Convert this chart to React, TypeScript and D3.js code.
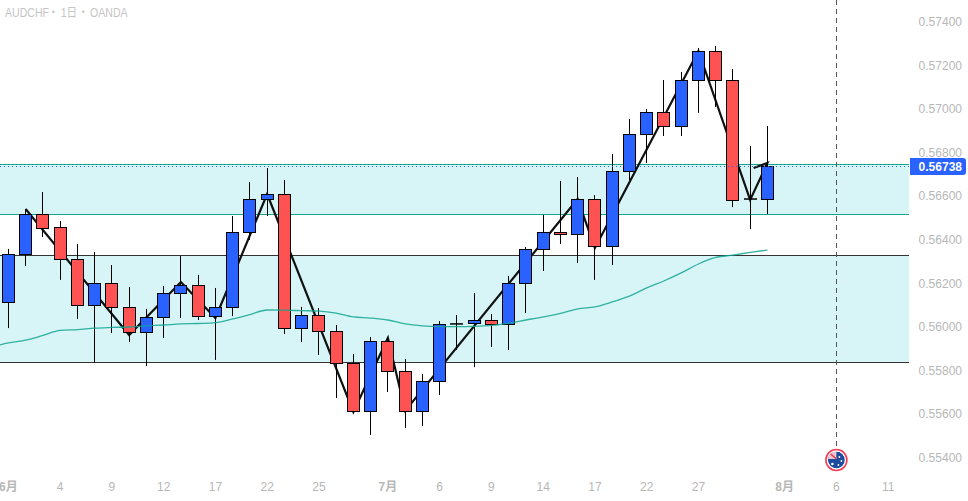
import React from "react";
import * as d3 from "d3";

const W = 968;
const H = 501;

const opens = [0.56116,0.56336,0.56519,0.5646,0.56313,0.56102,0.56203,0.56093,0.55978,0.56047,0.56157,0.56194,0.56051,0.56093,0.56437,0.56588,0.56611,0.55996,0.56056,0.55983,0.55836,0.55616,0.55937,0.55799,0.55616,0.55753,0.56015,0.56019,0.56033,0.56015,0.56203,0.56359,0.56437,0.56428,0.56588,0.56373,0.56717,0.56886,0.56987,0.56923,0.57134,0.57267,0.57134,0.56588,0.56588];
const closes = [0.56336,0.56519,0.56455,0.56313,0.56102,0.56203,0.56093,0.55978,0.56047,0.56157,0.56194,0.56051,0.56093,0.56437,0.56588,0.56611,0.55996,0.56056,0.55983,0.55836,0.55616,0.55937,0.55799,0.55616,0.55753,0.56015,0.56015,0.56033,0.56015,0.56203,0.56359,0.56437,0.56428,0.56588,0.56373,0.56717,0.56886,0.56987,0.56923,0.57134,0.57267,0.57134,0.56584,0.56588,0.56738];
const highs = [0.56359,0.56542,0.5662,0.56487,0.56382,0.56345,0.56285,0.56184,0.56084,0.56189,0.56327,0.5624,0.5618,0.5651,0.56666,0.5673,0.56675,0.56093,0.56088,0.5601,0.55877,0.55955,0.55951,0.55854,0.55785,0.56028,0.56056,0.56157,0.56061,0.56235,0.56368,0.56515,0.56671,0.56689,0.56606,0.56795,0.56955,0.57001,0.57134,0.57171,0.57281,0.5729,0.57184,0.56831,0.56923];
const lows = [0.55996,0.56281,0.56414,0.56217,0.56038,0.55836,0.55973,0.55932,0.55822,0.55951,0.56042,0.56033,0.5585,0.56051,0.564,0.5651,0.55969,0.55932,0.55873,0.55675,0.55606,0.55506,0.55703,0.55538,0.55547,0.55689,0.55895,0.55817,0.55909,0.55895,0.56065,0.56258,0.56382,0.56295,0.56217,0.56285,0.56675,0.56753,0.56877,0.56877,0.56983,0.5701,0.56551,0.5645,0.56519];

const maStart = -1;
const maValues = [0.55909,0.55928,0.55941,0.55962,0.55985,0.55989,0.55996,0.55999,0.56001,0.56006,0.5601,0.56015,0.56017,0.56021,0.56038,0.56058,0.56079,0.56078,0.56076,0.56074,0.56065,0.56047,0.56042,0.56033,0.56015,0.56006,0.56003,0.56003,0.56004,0.56008,0.56019,0.56033,0.56047,0.56063,0.56084,0.56093,0.56116,0.56143,0.5618,0.56212,0.56249,0.5629,0.5632,0.56331,0.56343,0.56354];

const zigzagIdx = [1,7,10,12,15,20,22,23,33,34,40,43,44,43.2];
const zigzagPrice = [0.56542,0.55964,0.56207,0.56042,0.56611,0.55611,0.55951,0.55616,0.56588,0.56363,0.57267,0.56584,0.56753,0.5673];

const zoneUpper = [0.56749, 0.56519];
const zoneLower = [0.56331, 0.5584];
const lastPrice = 0.56738;
const eventIdx = 48;

const priceTicks = [0.574,0.572,0.57,0.568,0.566,0.564,0.562,0.56,0.558,0.556,0.554];
const timeIdx = [0,3,6,9,12,15,18,22,25,28,31,34,37,40,45,48,51];
const timeLabels = ["6月","4","9","12","17","22","25","7月","6","9","14","17","22","27","8月","6","11"];

const FONT = "'Liberation Sans','Noto Sans CJK JP',sans-serif";
const GREY = "#b7b7b7";

export default function App() {
  const plotRight = 909;
  const x = d3.scaleLinear().domain([0, 44]).range([8.4, 767.4]);
  const y = d3.scaleLinear().domain([0.574, 0.554]).range([22, 458]);
  const px = (v: number) => Math.round(v) + 0.5;

  const maLine = d3.line<number>().x((_, i) => x(i + maStart)).y((d) => y(d)).curve(d3.curveMonotoneX);
  const zzLine = d3.line<number>().x((_, i) => x(zigzagIdx[i])).y((d) => y(d));

  const zones = [
    { p: zoneUpper, stroke: "#12a58f" },
    { p: zoneLower, stroke: "#333333" },
  ];
  const fx = x(eventIdx);
  const fy = 460;

  return (
    <svg width={W} height={H} viewBox={`0 0 ${W} ${H}`} style={{ position: "fixed", left: 0, top: 0, background: "#fff" }} fontFamily={FONT}>
      <defs>
        <clipPath id="plot"><rect x={0} y={0} width={plotRight} height={H} /></clipPath>
        <clipPath id="flag"><circle cx={fx} cy={fy} r={8.5} /></clipPath>
      </defs>
      <g clipPath="url(#plot)">
        {zones.map((z, i) => (
          <g key={i}>
            <rect x={0} width={plotRight} y={y(z.p[0])} height={y(z.p[1]) - y(z.p[0])} fill="#d7f5f7" />
            <line x1={0} x2={plotRight} y1={px(y(z.p[0]))} y2={px(y(z.p[0]))} stroke={z.stroke} />
            <line x1={0} x2={plotRight} y1={px(y(z.p[1]))} y2={px(y(z.p[1]))} stroke={z.stroke} />
          </g>
        ))}
        <path d={zzLine(zigzagPrice) ?? ""} fill="none" stroke="#111" strokeWidth={2.2} strokeLinejoin="miter" />
        {opens.map((o, i) => {
          const c = closes[i];
          const cx = Math.floor(x(i)) + 0.5;
          const top = y(Math.max(o, c));
          const bot = y(Math.min(o, c));
          return (
            <g key={i}>
              <line x1={cx} x2={cx} y1={y(highs[i])} y2={y(lows[i])} stroke="#000" strokeWidth={1} />
              {c === o ? (
                <line x1={cx - 6.5} x2={cx + 6.5} y1={top} y2={top} stroke="#000" strokeWidth={1.5} />
              ) : (
                <rect x={cx - 6} width={12} y={Math.round(top) + 0.5} height={Math.max(Math.round(bot) - Math.round(top), 1)}
                  fill={c > o ? "#2962ff" : "#ff5252"} stroke="#000" strokeWidth={1} />
              )}
            </g>
          );
        })}
        <path d={maLine(maValues) ?? ""} fill="none" stroke="#12a58f" strokeWidth={1.3} strokeOpacity={0.85} />
        <line x1={0} x2={plotRight} y1={px(y(lastPrice))} y2={px(y(lastPrice))} stroke="#2962ff" strokeWidth={1} strokeDasharray="1 3" />
        <line x1={px(fx)} x2={px(fx)} y1={0} y2={450} stroke="#555" strokeWidth={1} strokeDasharray="5 4" />
      </g>

      <text transform="translate(5,17) scale(0.88,1)" fontSize={12} fill="#c4c4c4">
        <tspan x={0}>AUDCHF</tspan>
        <tspan x={48.9}>・</tspan>
        <tspan x={63.3}>1日</tspan>
        <tspan x={83}>・</tspan>
        <tspan x={96.6}>OANDA</tspan>
      </text>

      {priceTicks.map((t) => (
        <text key={t} x={962} y={y(t) + 4} textAnchor="end" fontSize={12} fill={GREY}>{t.toFixed(5)}</text>
      ))}
      {timeIdx.map((t, i) => (
        <text key={i} x={x(t)} y={491} textAnchor="middle" fontSize={12} fill={GREY}
          fontWeight={timeLabels[i].includes("月") ? 700 : 400}>{timeLabels[i]}</text>
      ))}

      <path d="M910 158 H963 a3 3 0 0 1 3 3 V172 a3 3 0 0 1 -3 3 H910 Z" fill="#2962ff" />
      <text x={962} y={y(lastPrice) + 4.5} textAnchor="end" fontSize={12} fontWeight={700} fill="#fff">{lastPrice.toFixed(5)}</text>

      <circle cx={fx} cy={fy} r={10.5} fill="#fff" stroke="#f23d55" strokeWidth={1.6} />
      <g clipPath="url(#flag)">
        <circle cx={fx} cy={fy} r={8.5} fill="#1c4ba0" />
        <rect x={fx - 9} y={fy - 9} width={9} height={8} fill="#f2c4cc" />
        <line x1={fx - 9} y1={fy - 9} x2={fx} y2={fy - 1} stroke="#e2405a" strokeWidth={1.5} />
        <circle cx={fx - 4} cy={fy + 4} r={1.3} fill="#fff" />
        <circle cx={fx + 3} cy={fy - 3} r={0.9} fill="#fff" />
        <circle cx={fx + 5} cy={fy + 1} r={0.9} fill="#fff" />
        <circle cx={fx + 2} cy={fy + 5} r={0.9} fill="#fff" />
      </g>
    </svg>
  );
}
